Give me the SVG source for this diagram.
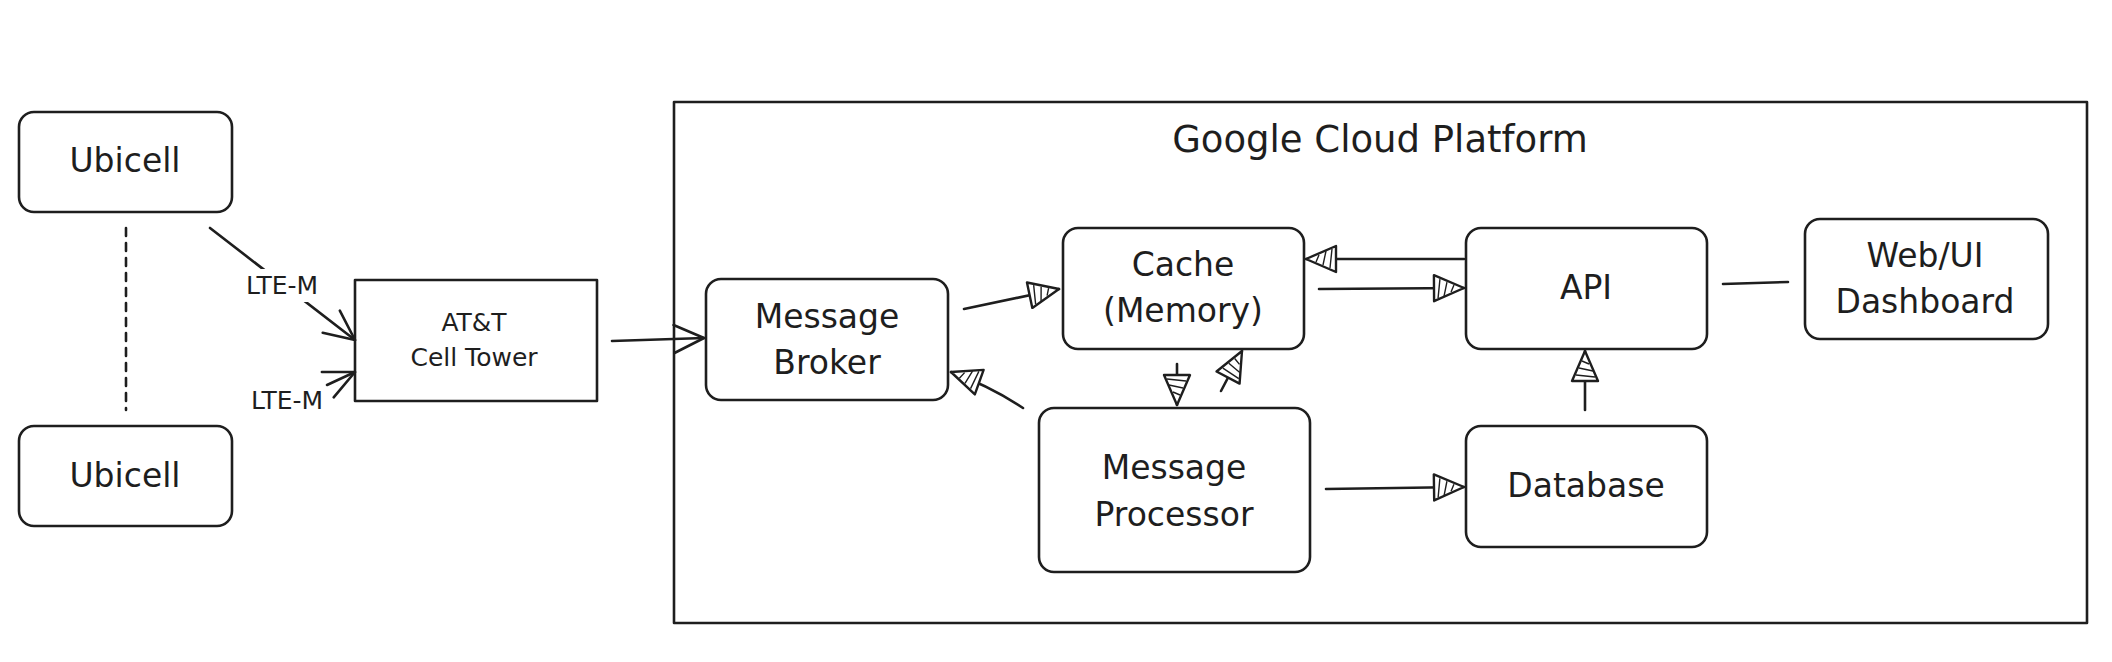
<svg xmlns="http://www.w3.org/2000/svg" width="2112" height="662" viewBox="0 0 2112 662">
<style>
.box{fill:none;stroke:#1e1e1e;stroke-width:2.6;stroke-linejoin:round}
.t{font-family:"DejaVu Sans","Liberation Sans",sans-serif;fill:#1e1e1e;text-anchor:middle}
.n{font-size:33px}
.s{font-size:25px}
.c{fill:none;stroke:#1e1e1e;stroke-width:2.6;stroke-linecap:round}
.mk{fill:none;stroke:#1e1e1e;stroke-width:2.6;stroke-linecap:round;stroke-linejoin:round}
.mt{fill:#fff;stroke:#1e1e1e;stroke-width:2.4;stroke-linejoin:round}
.h{stroke:#1e1e1e;stroke-width:1.4;fill:none}
</style>
<defs>
<marker id="open" viewBox="0 0 36 36" refX="34" refY="18" markerWidth="36" markerHeight="36" markerUnits="userSpaceOnUse" orient="auto">
<path class="mk" d="M4,4 L34,18 L4,32"/>
</marker>
<marker id="tri" viewBox="0 0 36 36" refX="34" refY="18" markerWidth="36" markerHeight="36" markerUnits="userSpaceOnUse" orient="auto">
<path class="mt" d="M34,18 L4,5 L4,31 Z"/>
<path class="h" d="M10,9 L8,28 M17,12 L14,26 M24,15 L21,22"/>
</marker>
</defs>

<g id="gcp">
<rect class="box" x="674" y="102" width="1413" height="521"/>
<text class="t" x="1380" y="152" font-size="37">Google Cloud Platform</text>
</g>

<g id="connectors">
<path class="c" d="M126,228 L126,410" stroke-dasharray="8 7"/>
<path class="c" d="M210,228 L355,340" marker-end="url(#open)"/>
<path class="c" d="M327,385 L355,372" marker-end="url(#open)"/>
<path class="c" d="M612,341 L704,338" marker-end="url(#open)"/>
<path class="c" d="M964,309 L1059,289" marker-end="url(#tri)"/>
<path class="c" d="M1023,408 Q990,386 951,372" marker-end="url(#tri)"/>
<path class="c" d="M1177,364 L1177,405" marker-end="url(#tri)"/>
<path class="c" d="M1221,391 L1242,351" marker-end="url(#tri)"/>
<path class="c" d="M1464,259 L1306,259" marker-end="url(#tri)"/>
<path class="c" d="M1319,289 L1464,288" marker-end="url(#tri)"/>
<path class="c" d="M1326,489 L1464,487" marker-end="url(#tri)"/>
<path class="c" d="M1585,410 L1585,351" marker-end="url(#tri)"/>
<path class="c" d="M1723,284 L1788,282"/>
<rect x="237" y="269" width="90" height="33" fill="#fff"/>
<text class="t s" x="282" y="294">LTE-M</text>
<text class="t s" x="287" y="409">LTE-M</text>
</g>

<g id="ubicell1">
<rect class="box" x="19" y="112" width="213" height="100" rx="15"/>
<text class="t n" x="125" y="172">Ubicell</text>
</g>
<g id="ubicell2">
<rect class="box" x="19" y="426" width="213" height="100" rx="15"/>
<text class="t n" x="125" y="487">Ubicell</text>
</g>
<g id="att">
<rect class="box" x="355" y="280" width="242" height="121"/>
<text class="t" font-size="25" x="474" y="331">AT&amp;T</text>
<text class="t" font-size="25" x="474" y="366">Cell Tower</text>
</g>
<g id="broker">
<rect class="box" x="706" y="279" width="242" height="121" rx="15"/>
<text class="t n" x="827" y="328">Message</text>
<text class="t n" x="827" y="374">Broker</text>
</g>
<g id="cache">
<rect class="box" x="1063" y="228" width="241" height="121" rx="15"/>
<text class="t n" x="1183" y="276">Cache</text>
<text class="t n" x="1183" y="322">(Memory)</text>
</g>
<g id="api">
<rect class="box" x="1466" y="228" width="241" height="121" rx="15"/>
<text class="t n" x="1586" y="299">API</text>
</g>
<g id="webui">
<rect class="box" x="1805" y="219" width="243" height="120" rx="15"/>
<text class="t n" x="1925" y="267">Web/UI</text>
<text class="t n" x="1925" y="313">Dashboard</text>
</g>
<g id="processor">
<rect class="box" x="1039" y="408" width="271" height="164" rx="15"/>
<text class="t n" x="1174" y="479">Message</text>
<text class="t n" x="1174" y="526">Processor</text>
</g>
<g id="database">
<rect class="box" x="1466" y="426" width="241" height="121" rx="15"/>
<text class="t n" x="1586" y="497">Database</text>
</g>
</svg>
